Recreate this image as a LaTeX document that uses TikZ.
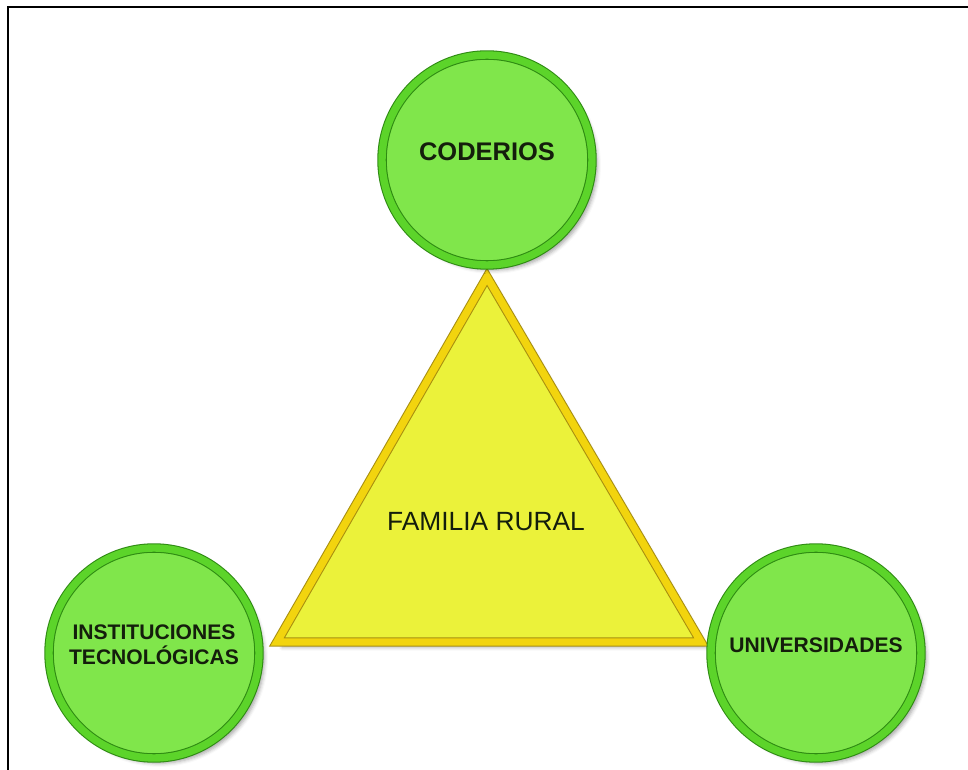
\documentclass[tikz,border=0pt]{standalone}
\usepackage{fontspec}
\setmainfont{Liberation Sans}
\usetikzlibrary{shadows.blur}
\definecolor{CircleGreen}{HTML}{80E64B}
\definecolor{RingGreen}{HTML}{5CD42A}
\definecolor{EdgeGreen}{HTML}{2E8A12}
\definecolor{TriYellow}{HTML}{EBF23A}
\definecolor{RimGold}{HTML}{F2D40E}
\definecolor{EdgeGold}{HTML}{A88F10}
\definecolor{TextDark}{HTML}{141E0C}

\begin{document}
\begin{tikzpicture}[x=0.02cm,y=-0.02cm,line join=miter,
  actor/.style={circle,inner sep=0pt,minimum size=4.2cm,fill=CircleGreen,draw=EdgeGreen,line width=0.6pt,
    double=RingGreen,double distance=4.2pt,blur shadow={shadow xshift=3pt,shadow yshift=-3pt,shadow opacity=35}},
  actortext/.style={font=\bfseries\fontsize{12}{14.2}\selectfont,align=center,text=TextDark}]
  \useasboundingbox (0,0) rectangle (968,770);
  \draw[line width=1.2pt] (8,770) -- (8,7) -- (968,7);
  % triangle
  \coordinate (T) at (487,277); \coordinate (L) at (277,642); \coordinate (R) at (701,642);
  \draw[fill=TriYellow,draw=EdgeGold,line width=0.6pt,double=RimGold,double distance=4.2pt,
    blur shadow={shadow xshift=3pt,shadow yshift=-3pt,shadow opacity=30}] (T) -- (L) -- (R) -- cycle;
  \node[font=\fontsize{15}{18}\selectfont,text=TextDark] (fam) at (486,522) {FAMILIA RURAL};
  % circles
  \node[actor] (cod) at (487,160) {}; \node[actor] (ins) at (154,653) {}; \node[actor] (uni) at (816,653) {};
  \node[actortext,font=\bfseries\fontsize{14.5}{17}\selectfont] (codt) at ([yshift=0.16cm]cod.center) {CODERIOS};
  \node[actortext] (inst) at ([yshift=0.16cm]ins.center) {INSTITUCIONES\\TECNOLÓGICAS};
  \node[actortext] (unit) at ([yshift=0.16cm]uni.center) {UNIVERSIDADES};
\end{tikzpicture}
\end{document}
